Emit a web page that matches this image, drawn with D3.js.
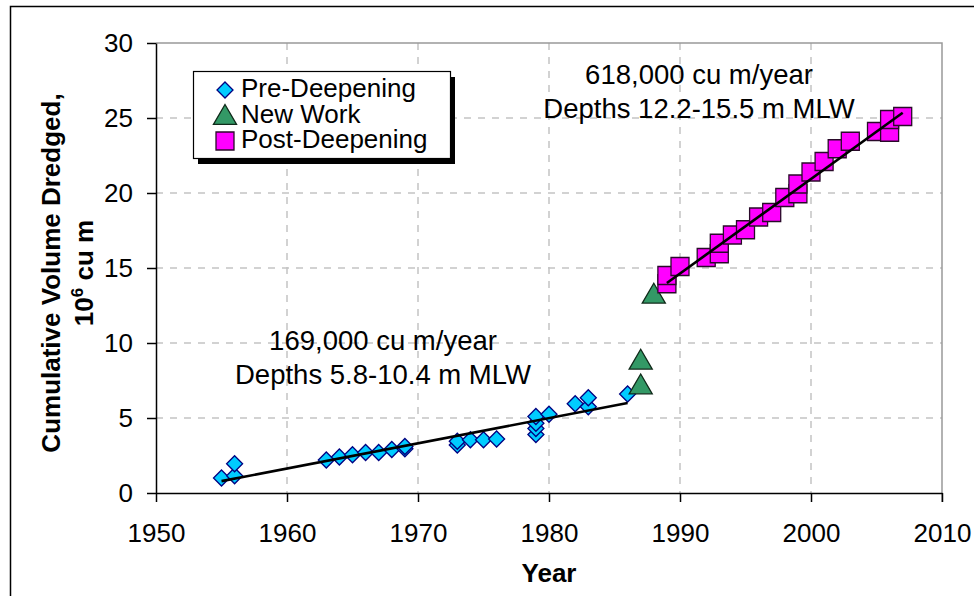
<!DOCTYPE html>
<html>
<head>
<meta charset="utf-8">
<script src="https://cdn.jsdelivr.net/npm/d3@7"></script>
<style>
  body { margin: 0; background: #fff; }
  svg { display: block; font-family: "Liberation Sans", Arial, sans-serif; }
</style>
</head>
<body>
<div id="viz"></div>
<script>
// Pre-deepening maintenance (year, cumulative 10^6 cu m)
const preYears  = [1955, 1956, 1956, 1963, 1964, 1965, 1966, 1967, 1968, 1969, 1969, 1973, 1973, 1974, 1975, 1976, 1979, 1979, 1979, 1979, 1980, 1982, 1983, 1983, 1986];
const preValues = [1.0, 1.15, 1.95, 2.2, 2.4, 2.55, 2.7, 2.7, 2.9, 2.95, 3.1, 3.2, 3.45, 3.55, 3.55, 3.6, 3.9, 4.3, 4.65, 5.1, 5.25, 5.95, 5.75, 6.35, 6.6];

// New work
const newYears  = [1987, 1987, 1988];
const newValues = [7.2, 8.85, 13.25];

// Post-deepening maintenance
const postYears  = [1989, 1989, 1990, 1992, 1993, 1993, 1994, 1995, 1996, 1997, 1998, 1999, 1999, 2000, 2001, 2002, 2003, 2005, 2006, 2006, 2007];
const postValues = [13.95, 14.5, 15.1, 15.7, 15.95, 16.65, 17.2, 17.55, 18.4, 18.7, 19.7, 19.95, 20.6, 21.4, 22.1, 22.95, 23.45, 24.1, 24.05, 24.9, 25.1];

// trend lines (end points)
const preFitYears  = [1955, 1986];
const preFitValues = [0.79, 6.0];
const postFitYears  = [1989, 2007];
const postFitValues = [14.0, 25.35];

const xTicks = [1950, 1960, 1970, 1980, 1990, 2000, 2010];
const yTicks = [0, 5, 10, 15, 20, 25, 30];

const seriesNames = ["Pre-Deepening", "New Work", "Post-Deepening"];
const preNotes  = ["169,000 cu m/year", "Depths 5.8-10.4 m MLW"];
const postNotes = ["618,000 cu m/year", "Depths 12.2-15.5 m MLW"];

const W = 974, H = 596;
const margin = { top: 43, right: 32, bottom: 103, left: 156 };
const width = W - margin.left - margin.right;
const height = H - margin.top - margin.bottom;

const svg = d3.select("#viz").append("svg")
  .attr("width", W)
  .attr("height", H);

// outer chart frame (runs off the right / bottom of the picture)
svg.append("rect")
  .attr("x", 10.5).attr("y", 6.5)
  .attr("width", W).attr("height", H)
  .attr("fill", "none").attr("stroke", "#000").attr("stroke-width", 1.5);

const g = svg.append("g").attr("transform", `translate(${margin.left},${margin.top})`);

const x = d3.scaleLinear().domain([1950, 2010]).range([0, width]);
const y = d3.scaleLinear().domain([0, 30]).range([height, 0]);

// gridlines
g.append("g").selectAll("line")
  .data(xTicks.slice(1, -1))
  .join("line")
    .attr("x1", d => x(d)).attr("x2", d => x(d))
    .attr("y1", 0).attr("y2", height)
    .attr("stroke", "#c4c4c4").attr("stroke-width", 1.5)
    .attr("stroke-dasharray", "7,7");
g.append("g").selectAll("line")
  .data(yTicks.slice(1, -1))
  .join("line")
    .attr("x1", 0).attr("x2", width)
    .attr("y1", d => y(d)).attr("y2", d => y(d))
    .attr("stroke", "#c4c4c4").attr("stroke-width", 1.5)
    .attr("stroke-dasharray", "7,7");

// top / right border
g.append("path")
  .attr("d", `M0,0H${width}V${height + 9}`)
  .attr("fill", "none").attr("stroke", "#999").attr("stroke-width", 1.5);

// axes
const xAxis = g.append("g")
  .attr("transform", `translate(0,${height})`)
  .call(d3.axisBottom(x).tickValues(xTicks).tickFormat(d3.format("d")).tickSize(9).tickSizeOuter(0).tickPadding(22));
const yAxis = g.append("g")
  .call(d3.axisLeft(y).tickValues(yTicks).tickSize(9).tickSizeOuter(0).tickPadding(14));

[xAxis, yAxis].forEach(a => {
  a.select(".domain").attr("stroke", "#000").attr("stroke-width", 1.5);
  a.selectAll(".tick line").attr("stroke", "#000").attr("stroke-width", 1.5);
  a.selectAll(".tick text")
    .attr("fill", "#000")
    .style("font-size", "26px")
    .style("font-family", "'Liberation Sans', Arial, sans-serif");
});

// axis titles
svg.append("text")
  .attr("x", margin.left + width / 2)
  .attr("y", 582)
  .attr("text-anchor", "middle")
  .style("font-size", "26px").style("font-weight", "bold")
  .text("Year");

const yTitle = svg.append("text")
  .attr("transform", `translate(60,${margin.top + height / 2 + 5}) rotate(-90)`)
  .attr("text-anchor", "middle")
  .style("font-size", "26px").style("font-weight", "bold");
yTitle.append("tspan").attr("x", 0).attr("y", 0).text("Cumulative Volume Dredged,");
const l2 = yTitle.append("tspan").attr("x", 0).attr("y", 33);
l2.append("tspan").text("10");
l2.append("tspan").attr("dy", -10).style("font-size", "17px").text("6");
l2.append("tspan").attr("dy", 10).text(" cu m");

// marker shapes
const diamond = s => `M0,${-s}L${s},0L0,${s}L${-s},0Z`;
const triangle = s => `M0,${-s}L${s * 1.05},${s * 0.8}L${-s * 1.05},${s * 0.8}Z`;
const square = s => `M${-s},${-s}H${s}V${s}H${-s}Z`;

const styles = [
  { path: diamond(8),   fill: "#00ccff", stroke: "#000080" },
  { path: triangle(11), fill: "#339966", stroke: "#102a1a" },
  { path: square(9),    fill: "#ff00ff", stroke: "#2a0a2a" }
];

const series = [
  d3.zip(preYears, preValues),
  d3.zip(newYears, newValues),
  d3.zip(postYears, postValues)
];

series.forEach((pts, i) => {
  g.append("g").selectAll("path")
    .data(pts)
    .join("path")
      .attr("transform", d => `translate(${x(d[0])},${y(d[1])})`)
      .attr("d", styles[i].path)
      .attr("fill", styles[i].fill)
      .attr("stroke", styles[i].stroke)
      .attr("stroke-width", 1.3);
});

// trend lines
const line = d3.line().x(d => x(d[0])).y(d => y(d[1]));
[d3.zip(preFitYears, preFitValues), d3.zip(postFitYears, postFitValues)].forEach(pts => {
  g.append("path")
    .datum(pts)
    .attr("d", line)
    .attr("fill", "none").attr("stroke", "#000").attr("stroke-width", 2.6);
});

// annotations
const note = (lines, cx, y0) => {
  svg.append("g").selectAll("text")
    .data(lines)
    .join("text")
      .attr("x", cx)
      .attr("y", (d, i) => y0 + i * 34)
      .attr("text-anchor", "middle")
      .style("font-size", "27.5px")
      .text(d => d);
};
note(preNotes, 383, 350);
note(postNotes, 699, 84);

// legend
const legend = svg.append("g").attr("transform", "translate(193,71)");
legend.append("rect").attr("x", 5).attr("y", 6).attr("width", 257).attr("height", 87).attr("fill", "#000");
legend.append("rect").attr("x", 0.5).attr("y", 0.5).attr("width", 257).attr("height", 87)
  .attr("fill", "#fff").attr("stroke", "#000").attr("stroke-width", 1.2);

const legendItem = legend.selectAll(".item")
  .data(seriesNames)
  .join("g")
    .attr("class", "item")
    .attr("transform", (d, i) => `translate(32,${19 + i * 25.5})`);
legendItem.append("path")
  .attr("d", (d, i) => styles[i].path)
  .attr("fill", (d, i) => styles[i].fill)
  .attr("stroke", (d, i) => styles[i].stroke)
  .attr("stroke-width", 1.3);
legendItem.append("text")
  .attr("x", 16)
  .attr("y", 7)
  .style("font-size", "26px")
  .text(d => d);
</script>
</body>
</html>
